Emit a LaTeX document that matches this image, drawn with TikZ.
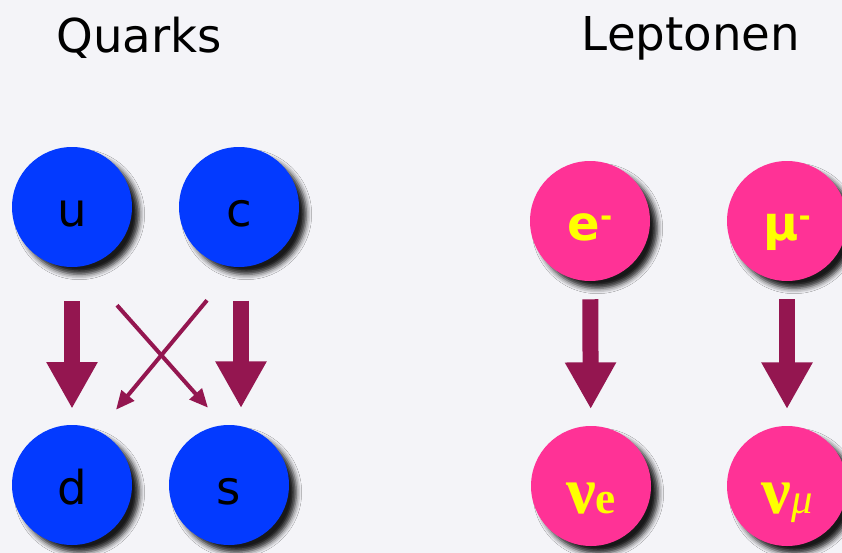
\documentclass[tikz,border=0pt]{standalone}
\usepackage{fontspec}
\setmainfont{DejaVu Sans}
\newfontfamily\nufont{Liberation Serif}
\usetikzlibrary{arrows.meta,calc,shadows.blur}
\definecolor{bgcol}{RGB}{244,244,248}
\definecolor{quarkblue}{RGB}{3,58,255}
\definecolor{leppink}{RGB}{255,50,150}
\definecolor{arrmaroon}{RGB}{148,22,80}
\definecolor{labyellow}{RGB}{255,255,0}

\begin{document}
\begin{tikzpicture}[x=0.75pt, y=-0.75pt,
  quark/.style={circle, fill=quarkblue, minimum size=90pt, inner sep=0pt,
    blur shadow={shadow xshift=5.5pt, shadow yshift=-5.5pt, shadow blur radius=4pt, shadow opacity=90},
    font=\fontsize{35}{35}\selectfont, text height=29pt, text depth=0pt},
  lepton/.style={quark, fill=leppink, text=labyellow, font=\bfseries\fontsize{36}{36}\selectfont},
  neutrino/.style={lepton, text height=41pt},
  ttl/.style={anchor=base, font=\fontsize{35}{35}\selectfont},
  bigarr/.style={draw=arrmaroon, line width=12pt, -{Triangle[width=36pt, length=35pt]}},
  xarr/.style={draw=arrmaroon, line width=3pt, -{Triangle[width=12pt, length=14pt]}}
]
\fill[bgcol] (0,0) rectangle (842,553);
\useasboundingbox (0,0) rectangle (842,553);

\node[ttl] (tq) at (139,52) {Quarks};
\node[ttl] (tl) at (691,50) {Leptonen};

\node[quark] (u) at (72,207) {u};
\node[quark] (c) at (239,207) {c};
\node[quark] (d) at (72,485) {d};
\node[quark] (s) at (229,485) {s};

\node[lepton] (e) at (590,221) {e\raisebox{0.28em}{\fontsize{22}{22}\selectfont -}};
\node[lepton] (mu) at (787,221) {µ\raisebox{0.28em}{\fontsize{22}{22}\selectfont -}};
\node[neutrino] (nue) at (591,486) {\nufont\bfseries\fontsize{50}{50}\selectfont ν\fontsize{34}{34}\selectfont e};
\node[neutrino] (numu) at (787,486) {\nufont\bfseries\fontsize{50}{50}\selectfont ν\mdseries\itshape\fontsize{32}{32}\selectfont μ};

\draw[bigarr, shorten <=25.5pt, shorten >=12pt] (u) -- (d);
\draw[bigarr, shorten <=25pt, shorten >=12.5pt] ([xshift=1.5pt]c.south) -- ([xshift=1.5pt]c.south |- s.north);
\draw[xarr] ([shift={(45,38)}]u.south) -- ([shift={(-21,-17)}]s.north);
\draw[xarr] ([shift={(-32,33)}]c.south) -- ([shift={(44,-15)}]d.north);
\draw[bigarr, shorten <=13.5pt, shorten >=12.5pt] (e) -- (nue);
\draw[bigarr, shorten <=13.5pt, shorten >=12.5pt] (mu) -- (numu);
\end{tikzpicture}
\end{document}
